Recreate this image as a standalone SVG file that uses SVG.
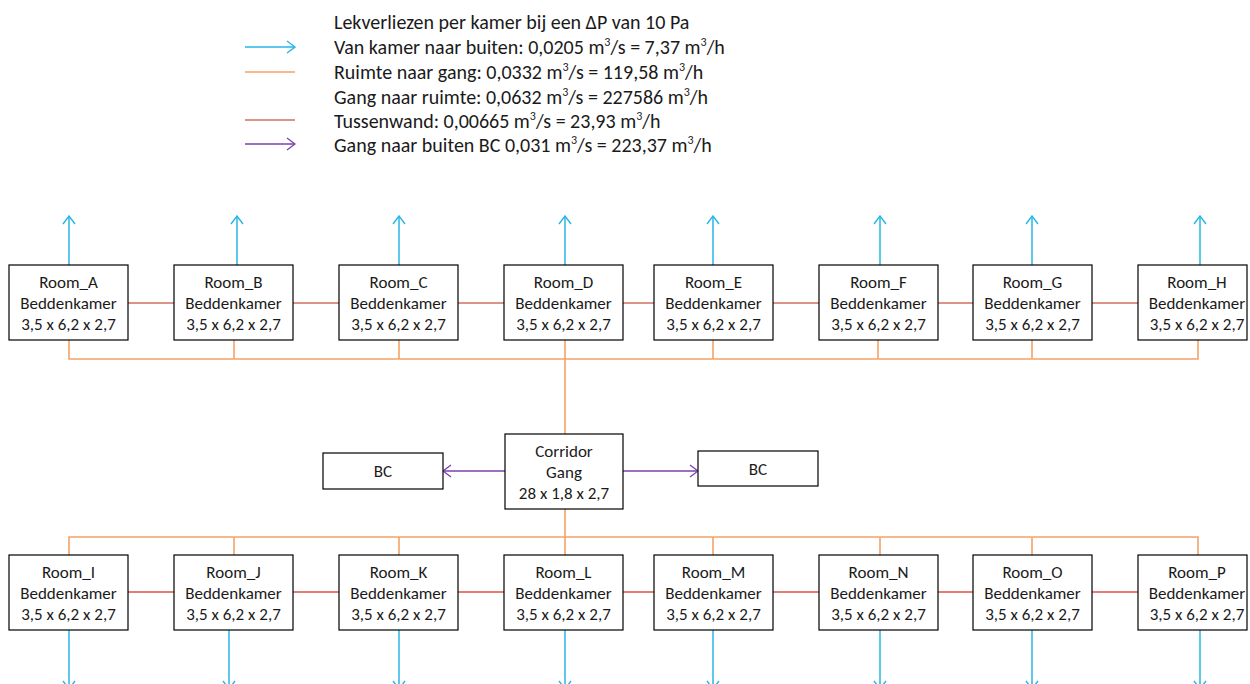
<svg xmlns="http://www.w3.org/2000/svg" width="1250" height="684" viewBox="0 0 1250 684">
<style>
text{font-family:Carlito,Lato,"Liberation Sans",sans-serif;fill:#1a1a1a}
.leg{font-size:20px}
.sup{font-size:12px}
.box{fill:#fff;stroke:#000;stroke-width:1.2}
.lbl{font-size:17px;text-anchor:middle}
.cy{stroke:#29B5E8;stroke-width:1.5;fill:none}
.or{stroke:#F5A266;stroke-width:1.6;fill:none}
.rd{stroke:#D0705E;stroke-width:1.5;fill:none}
.rd2{stroke:#E0524A;stroke-width:1.3;fill:none}
.pu{stroke:#7A3FB0;stroke-width:1.3;fill:none}
</style>
<defs>
<marker id="mc" viewBox="0 0 10 14" refX="9" refY="7" markerWidth="10" markerHeight="14" markerUnits="userSpaceOnUse" orient="auto"><path d="M1,1 L9,7 L1,13" fill="none" stroke="#29B5E8" stroke-width="1.4"/></marker>
<marker id="mp" viewBox="0 0 10 14" refX="9" refY="7" markerWidth="10" markerHeight="14" markerUnits="userSpaceOnUse" orient="auto"><path d="M1,1 L9,7 L1,13" fill="none" stroke="#7A3FB0" stroke-width="1.3"/></marker>
</defs>

<g id="legend">
<line class="cy" x1="245" y1="47" x2="295" y2="47" marker-end="url(#mc)"/>
<line class="or" x1="245" y1="72" x2="295" y2="72"/>
<line class="rd" x1="245" y1="120" x2="295" y2="120"/>
<line class="pu" x1="245" y1="144" x2="295" y2="144" marker-end="url(#mp)"/>
<text class="leg" x="334" y="29">Lekverliezen per kamer bij een ΔP van 10 Pa</text>
<text class="leg" x="334" y="54">Van kamer naar buiten: 0,0205 m<tspan class="sup" dy="-8">3</tspan><tspan dy="8">/s = 7,37 m</tspan><tspan class="sup" dy="-8">3</tspan><tspan dy="8">/h</tspan></text>
<text class="leg" x="334" y="79">Ruimte naar gang: 0,0332 m<tspan class="sup" dy="-8">3</tspan><tspan dy="8">/s = 119,58 m</tspan><tspan class="sup" dy="-8">3</tspan><tspan dy="8">/h</tspan></text>
<text class="leg" x="334" y="104">Gang naar ruimte: 0,0632 m<tspan class="sup" dy="-8">3</tspan><tspan dy="8">/s = 227586 m</tspan><tspan class="sup" dy="-8">3</tspan><tspan dy="8">/h</tspan></text>
<text class="leg" x="334" y="128">Tussenwand: 0,00665 m<tspan class="sup" dy="-8">3</tspan><tspan dy="8">/s = 23,93 m</tspan><tspan class="sup" dy="-8">3</tspan><tspan dy="8">/h</tspan></text>
<text class="leg" x="334" y="152">Gang naar buiten BC 0,031 m<tspan class="sup" dy="-8">3</tspan><tspan dy="8">/s = 223,37 m</tspan><tspan class="sup" dy="-8">3</tspan><tspan dy="8">/h</tspan></text>
</g>

<g id="connectors">
<line class="cy" x1="69" y1="265" x2="69" y2="216" marker-end="url(#mc)"/>
<line class="cy" x1="237" y1="265" x2="237" y2="216" marker-end="url(#mc)"/>
<line class="cy" x1="399" y1="265" x2="399" y2="216" marker-end="url(#mc)"/>
<line class="cy" x1="565" y1="265" x2="565" y2="216" marker-end="url(#mc)"/>
<line class="cy" x1="713" y1="265" x2="713" y2="216" marker-end="url(#mc)"/>
<line class="cy" x1="880" y1="265" x2="880" y2="216" marker-end="url(#mc)"/>
<line class="cy" x1="1032" y1="265" x2="1032" y2="216" marker-end="url(#mc)"/>
<line class="cy" x1="1200" y1="265" x2="1200" y2="216" marker-end="url(#mc)"/>
<line class="cy" x1="69" y1="630" x2="69" y2="689" marker-end="url(#mc)"/>
<line class="cy" x1="229" y1="630" x2="229" y2="689" marker-end="url(#mc)"/>
<line class="cy" x1="399" y1="630" x2="399" y2="689" marker-end="url(#mc)"/>
<line class="cy" x1="565" y1="630" x2="565" y2="689" marker-end="url(#mc)"/>
<line class="cy" x1="713" y1="630" x2="713" y2="689" marker-end="url(#mc)"/>
<line class="cy" x1="880" y1="630" x2="880" y2="689" marker-end="url(#mc)"/>
<line class="cy" x1="1032" y1="630" x2="1032" y2="689" marker-end="url(#mc)"/>
<line class="cy" x1="1200" y1="630" x2="1200" y2="689" marker-end="url(#mc)"/>
<path class="or" d="M69,340 V359 H1198 V340 M234,340 V359 M399,340 V359 M565,340 V434 M713,340 V359 M878,340 V359 M1032,340 V359"/>
<path class="or" d="M69,555 V537 H1198 V555 M234,555 V537 M399,555 V537 M565,509 V555 M713,555 V537 M880,555 V537 M1032,555 V537"/>
<path class="rd" d="M128,303 H174 M293,303 H339 M458,303 H504 M623,303 H654 M773,303 H819 M938,303 H973 M1092,303 H1138"/>
<path class="rd2" d="M128,592 H174 M293,592 H339 M458,592 H504 M623,592 H654 M773,592 H819 M938,592 H973 M1092,592 H1138"/>
<line class="pu" x1="505" y1="471" x2="443" y2="471" marker-end="url(#mp)"/>
<line class="pu" x1="623" y1="471" x2="698" y2="471" marker-end="url(#mp)"/>
</g>

<g id="Room_A"><rect class="box" x="9" y="265" width="119" height="75"/><text class="lbl"><tspan x="68.5" y="288">Room_A</tspan><tspan x="68.5" y="309">Beddenkamer</tspan><tspan x="68.5" y="330">3,5 x 6,2 x 2,7</tspan></text></g>
<g id="Room_B"><rect class="box" x="174" y="265" width="119" height="75"/><text class="lbl"><tspan x="233.5" y="288">Room_B</tspan><tspan x="233.5" y="309">Beddenkamer</tspan><tspan x="233.5" y="330">3,5 x 6,2 x 2,7</tspan></text></g>
<g id="Room_C"><rect class="box" x="339" y="265" width="119" height="75"/><text class="lbl"><tspan x="398.5" y="288">Room_C</tspan><tspan x="398.5" y="309">Beddenkamer</tspan><tspan x="398.5" y="330">3,5 x 6,2 x 2,7</tspan></text></g>
<g id="Room_D"><rect class="box" x="504" y="265" width="119" height="75"/><text class="lbl"><tspan x="563.5" y="288">Room_D</tspan><tspan x="563.5" y="309">Beddenkamer</tspan><tspan x="563.5" y="330">3,5 x 6,2 x 2,7</tspan></text></g>
<g id="Room_E"><rect class="box" x="654" y="265" width="119" height="75"/><text class="lbl"><tspan x="713.5" y="288">Room_E</tspan><tspan x="713.5" y="309">Beddenkamer</tspan><tspan x="713.5" y="330">3,5 x 6,2 x 2,7</tspan></text></g>
<g id="Room_F"><rect class="box" x="819" y="265" width="119" height="75"/><text class="lbl"><tspan x="878.5" y="288">Room_F</tspan><tspan x="878.5" y="309">Beddenkamer</tspan><tspan x="878.5" y="330">3,5 x 6,2 x 2,7</tspan></text></g>
<g id="Room_G"><rect class="box" x="973" y="265" width="119" height="75"/><text class="lbl"><tspan x="1032.5" y="288">Room_G</tspan><tspan x="1032.5" y="309">Beddenkamer</tspan><tspan x="1032.5" y="330">3,5 x 6,2 x 2,7</tspan></text></g>
<g id="Room_H"><rect class="box" x="1138" y="265" width="109" height="75"/><text class="lbl"><tspan x="1197" y="288">Room_H</tspan><tspan x="1197" y="309">Beddenkamer</tspan><tspan x="1197" y="330">3,5 x 6,2 x 2,7</tspan></text></g>

<g id="Corridor"><rect class="box" x="505" y="434" width="118" height="75"/><text class="lbl"><tspan x="564" y="457">Corridor</tspan><tspan x="564" y="478">Gang</tspan><tspan x="564" y="499">28 x 1,8 x 2,7</tspan></text></g>
<g id="BC_left"><rect class="box" x="323" y="453" width="120" height="36"/><text class="lbl" x="383" y="477">BC</text></g>
<g id="BC_right"><rect class="box" x="698" y="451" width="120" height="35"/><text class="lbl" x="758" y="475">BC</text></g>

<g id="Room_I"><rect class="box" x="9" y="555" width="119" height="75"/><text class="lbl"><tspan x="68.5" y="578">Room_I</tspan><tspan x="68.5" y="599">Beddenkamer</tspan><tspan x="68.5" y="620">3,5 x 6,2 x 2,7</tspan></text></g>
<g id="Room_J"><rect class="box" x="174" y="555" width="119" height="75"/><text class="lbl"><tspan x="233.5" y="578">Room_J</tspan><tspan x="233.5" y="599">Beddenkamer</tspan><tspan x="233.5" y="620">3,5 x 6,2 x 2,7</tspan></text></g>
<g id="Room_K"><rect class="box" x="339" y="555" width="119" height="75"/><text class="lbl"><tspan x="398.5" y="578">Room_K</tspan><tspan x="398.5" y="599">Beddenkamer</tspan><tspan x="398.5" y="620">3,5 x 6,2 x 2,7</tspan></text></g>
<g id="Room_L"><rect class="box" x="504" y="555" width="119" height="75"/><text class="lbl"><tspan x="563.5" y="578">Room_L</tspan><tspan x="563.5" y="599">Beddenkamer</tspan><tspan x="563.5" y="620">3,5 x 6,2 x 2,7</tspan></text></g>
<g id="Room_M"><rect class="box" x="654" y="555" width="119" height="75"/><text class="lbl"><tspan x="713.5" y="578">Room_M</tspan><tspan x="713.5" y="599">Beddenkamer</tspan><tspan x="713.5" y="620">3,5 x 6,2 x 2,7</tspan></text></g>
<g id="Room_N"><rect class="box" x="819" y="555" width="119" height="75"/><text class="lbl"><tspan x="878.5" y="578">Room_N</tspan><tspan x="878.5" y="599">Beddenkamer</tspan><tspan x="878.5" y="620">3,5 x 6,2 x 2,7</tspan></text></g>
<g id="Room_O"><rect class="box" x="973" y="555" width="119" height="75"/><text class="lbl"><tspan x="1032.5" y="578">Room_O</tspan><tspan x="1032.5" y="599">Beddenkamer</tspan><tspan x="1032.5" y="620">3,5 x 6,2 x 2,7</tspan></text></g>
<g id="Room_P"><rect class="box" x="1138" y="555" width="109" height="75"/><text class="lbl"><tspan x="1197" y="578">Room_P</tspan><tspan x="1197" y="599">Beddenkamer</tspan><tspan x="1197" y="620">3,5 x 6,2 x 2,7</tspan></text></g>
</svg>
